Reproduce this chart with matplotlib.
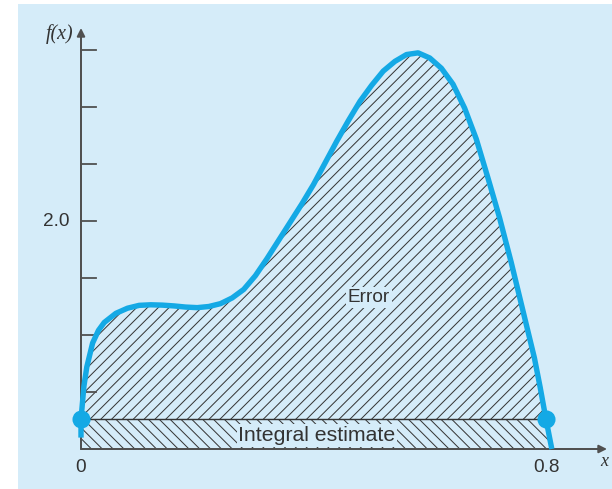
import matplotlib
matplotlib.use("Agg")
import matplotlib.pyplot as plt
from matplotlib.patches import Rectangle, Polygon

# curve (x, f(x))
curve_x = [0.000, 0.000, 0.005, 0.010, 0.020, 0.030, 0.040, 0.060, 0.080, 0.100,
           0.120, 0.140, 0.160, 0.180, 0.200, 0.220, 0.240, 0.260, 0.280, 0.300,
           0.320, 0.340, 0.360, 0.380, 0.400, 0.420, 0.440, 0.460, 0.480, 0.500,
           0.520, 0.540, 0.560, 0.580, 0.600, 0.620, 0.640, 0.660, 0.680, 0.700,
           0.720, 0.740, 0.760, 0.780, 0.790, 0.800, 0.810]
curve_y = [0.10, 0.26, 0.55, 0.72, 0.93, 1.04, 1.11, 1.19, 1.235, 1.26,
           1.265, 1.262, 1.255, 1.245, 1.24, 1.25, 1.275, 1.325, 1.40, 1.52,
           1.67, 1.83, 1.99, 2.15, 2.32, 2.51, 2.70, 2.88, 3.05, 3.19,
           3.315, 3.40, 3.46, 3.475, 3.43, 3.34, 3.20, 2.99, 2.72, 2.38,
           2.03, 1.64, 1.22, 0.80, 0.54, 0.26, 0.0]

# integration limits and end values
ends_x = [0.0, 0.8]
ends_y = [0.26, 0.26]

yticks = [0.5, 1.0, 1.5, 2.0, 2.5, 3.0, 3.5]
ytick_labels = {2.0: "2.0"}
xtick_labels = {0.0: "0", 0.8: "0.8"}

BG = "#d5ecf9"
BLUE = "#14a9e5"
AXC = "#505050"
TXT = "#333333"
HATCH = "#353535"
DPI = 130

plt.rcParams["hatch.color"] = HATCH
plt.rcParams["hatch.linewidth"] = 0.55
plt.rcParams["font.family"] = ["Liberation Sans", "DejaVu Sans"]

fig = plt.figure(figsize=(612 / DPI, 489 / DPI), dpi=DPI)
fig.patch.set_facecolor("white")

ax = fig.add_axes([0, 0, 1, 1])
ax.set_facecolor("none")
ax.axis("off")
# pixel mapping: x 0 -> 81px, 581.25 px/unit ; y 0 -> 449px, 114 px/unit
ax.set_xlim(-81 / 581.25, (612 - 81) / 581.25)
ax.set_ylim(-(489 - 449) / 114, 449 / 114)

ax.add_patch(Rectangle((18 / 612, 0), (612 - 18) / 612, (489 - 4) / 489,
                       transform=fig.transFigure, facecolor=BG,
                       edgecolor="none", zorder=0, clip_on=False))

# error region (between curve and trapezoid top)
fx = curve_x[1:-1]
fy = curve_y[1:-1]
top = [ends_y[0] + (ends_y[1] - ends_y[0]) * (x - ends_x[0]) / (ends_x[1] - ends_x[0])
       for x in fx]
ax.fill_between(fx, top, fy, facecolor="none", edgecolor=HATCH,
                hatch="////", linewidth=0, zorder=2)

# integral estimate (trapezoid)
trap = Polygon([(ends_x[0], 0), (ends_x[0], ends_y[0]), (ends_x[1], ends_y[1]),
                (curve_x[-1], curve_y[-1])], closed=True, facecolor="none",
               edgecolor=HATCH, hatch="\\\\\\\\", linewidth=0, zorder=2)
ax.add_patch(trap)
ax.plot(ends_x, ends_y, color=HATCH, lw=0.8, zorder=3)

# curve and end points
ax.plot(curve_x, curve_y, color=BLUE, lw=3.0, solid_capstyle="butt",
        solid_joinstyle="round", zorder=5)
ax.plot(ends_x, ends_y, "o", color=BLUE, ms=9, zorder=6)

# axes with arrows
ax.annotate("", xy=(0, (449 - 28) / 114), xytext=(0, 0),
            arrowprops=dict(arrowstyle="-|>", color=AXC, lw=1.1,
                            mutation_scale=9, shrinkA=0, shrinkB=0), zorder=4)
ax.annotate("", xy=((607 - 81) / 581.25, 0), xytext=(0, 0),
            arrowprops=dict(arrowstyle="-|>", color=AXC, lw=1.1,
                            mutation_scale=9, shrinkA=0, shrinkB=0), zorder=4)
for yt in yticks:
    ax.plot([0, 15 / 581.25], [yt, yt], color=AXC, lw=1.0, zorder=4)
    if yt in ytick_labels:
        ax.text(-11 / 581.25, yt, ytick_labels[yt], ha="right", va="center",
                fontsize=10.5, color=TXT)
for xt, lab in xtick_labels.items():
    ax.text(xt, -18 / 114, lab, ha="center", va="center", fontsize=10.5, color=TXT)

ax.text(-8 / 581.25, (449 - 34) / 114, "f(x)", ha="right", va="center",
        fontsize=11, style="italic", family="Liberation Serif", color=TXT)
ax.text((604 - 81) / 581.25, -13 / 114, "x", ha="center", va="center",
        fontsize=10, style="italic", family="Liberation Serif", color=TXT)

ax.text(0.495, 1.33, "Error", ha="center", va="center", fontsize=10.5, color=TXT,
        zorder=7, bbox=dict(boxstyle="square,pad=0.1", fc=BG, ec="none"))
ax.text(0.406, 0.12, "Integral estimate", ha="center", va="center", fontsize=11.8,
        color=TXT, zorder=7,
        bbox=dict(boxstyle="square,pad=0.08", fc=BG, ec="none"))

fig.savefig("out.png", dpi=DPI, facecolor=fig.get_facecolor())
